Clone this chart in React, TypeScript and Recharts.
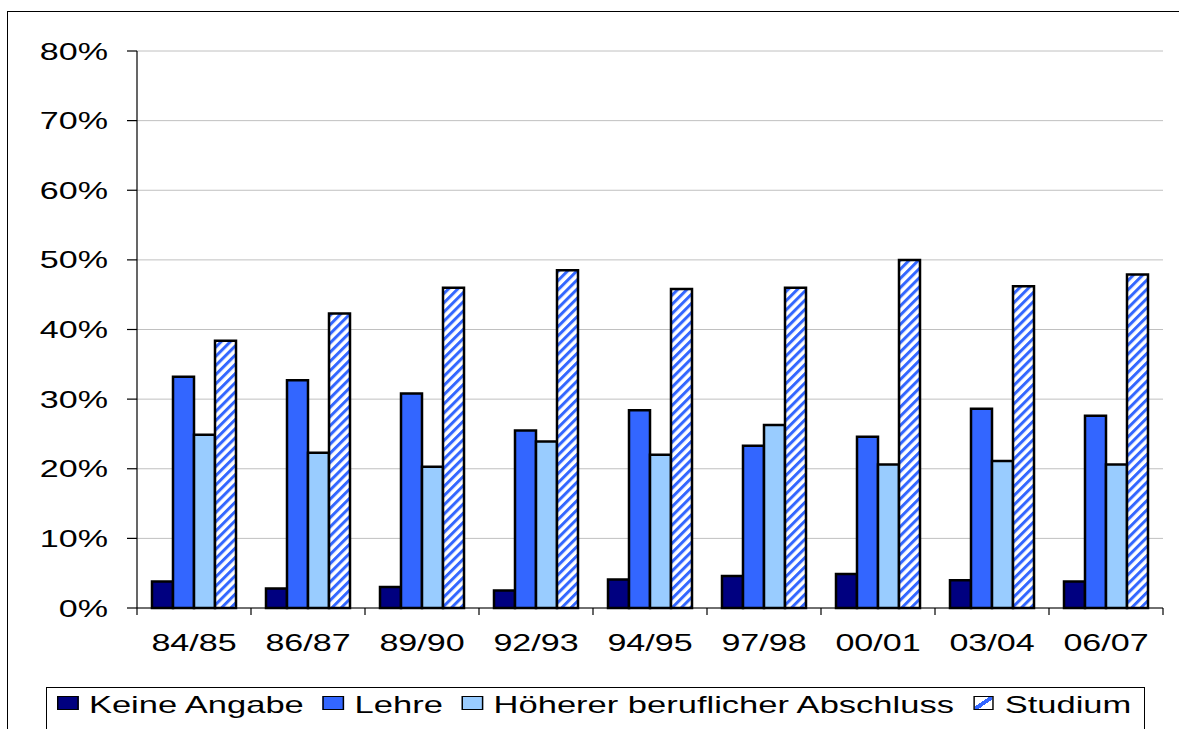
import React from 'react';
import { BarChart, Bar, XAxis, YAxis, CartesianGrid } from 'recharts';

// Schuljahre
const years = ['84/85', '86/87', '89/90', '92/93', '94/95', '97/98', '00/01', '03/04', '06/07'];

// Anteile in %
const keineAngabe = [3.8, 2.8, 3.0, 2.5, 4.1, 4.6, 4.9, 4.0, 3.8];
const lehre = [33.2, 32.7, 30.8, 25.5, 28.4, 23.3, 24.6, 28.6, 27.6];
const hoeherer = [24.9, 22.3, 20.3, 23.9, 22.0, 26.3, 20.6, 21.1, 20.6];
const studium = [38.4, 42.3, 46.0, 48.5, 45.8, 46.0, 50.0, 46.2, 47.9];

const yTicks = [0, 10, 20, 30, 40, 50, 60, 70, 80];

const seriesNames = ['Keine Angabe', 'Lehre', 'Höherer beruflicher Abschluss', 'Studium'];

const data = years.map((year, i) => ({
  year,
  keine: keineAngabe[i],
  lehre: lehre[i],
  hoeherer: hoeherer[i],
  studium: studium[i],
}));

const W = 1179;
const H = 729;
const PLOT_LEFT = 137;
const PLOT_RIGHT = 1163;
const BAND = (PLOT_RIGHT - PLOT_LEFT) / years.length;
const FONT = '"Liberation Sans", Arial, sans-serif';
const STRETCH = 1.45;

const XTick = (props: any) => {
  const { x, y, payload, index } = props;
  return (
    <g>
      <line x1={x - BAND / 2} x2={x - BAND / 2} y1={y - 7} y2={y} stroke="#000" strokeWidth={1.2} />
      {index === years.length - 1 && (
        <line x1={x + BAND / 2} x2={x + BAND / 2} y1={y - 7} y2={y} stroke="#000" strokeWidth={1.2} />
      )}
      <text
        transform={`translate(${x},${y + 36}) scale(${STRETCH},1)`}
        textAnchor="middle"
        fontFamily={FONT}
        fontSize={23.5}
        fill="#000"
      >
        {payload.value}
      </text>
    </g>
  );
};

const YTick = (props: any) => {
  const { x, y, payload } = props;
  return (
    <text
      transform={`translate(${x},${y + 8.5}) scale(${STRETCH},1)`}
      textAnchor="end"
      fontFamily={FONT}
      fontSize={23.5}
      fill="#000"
    >
      {`${payload.value}%`}
    </text>
  );
};

const Swatch = ({ kind }: { kind: number }) => {
  const fills = ['#000080', '#3366FF', '#99CCFF'];
  const style: React.CSSProperties = {
    width: 14.5,
    height: 14,
    border: '1.5px solid #000',
    boxSizing: 'border-box',
    marginTop: 5,
    background:
      kind < 3
        ? fills[kind]
        : 'linear-gradient(135deg, #fff 0%, #fff 40%, #3366FF 40%, #3366FF 60%, #fff 60%, #fff 100%)',
  };
  return <span style={style} />;
};

export default function App() {
  return (
    <div style={{ position: 'relative', width: W, height: H, overflow: 'hidden', background: '#fff' }}>
      <style>{'body{margin:0}'}</style>
      {/* Rahmen */}
      <div
        style={{
          position: 'absolute',
          left: 7,
          top: 11,
          width: 1300,
          height: 900,
          borderLeft: '1.5px solid #000',
          borderTop: '1.5px solid #000',
          boxSizing: 'border-box',
        }}
      />
      <div style={{ position: 'absolute', left: 0, top: 0 }}>
        <BarChart
          width={W}
          height={H}
          data={data}
          margin={{ top: 51, right: W - PLOT_RIGHT, bottom: 81, left: 0 }}
          barCategoryGap={15}
          barGap={0}
        >
          <defs>
            <pattern id="stripes" patternUnits="userSpaceOnUse" width={6.5} height={6.5} patternTransform="rotate(45)">
              <rect width={6.5} height={6.5} fill="#fff" />
              <rect width={3} height={6.5} fill="#3366FF" />
            </pattern>
          </defs>
          <CartesianGrid vertical={false} stroke="#c0c0c0" strokeWidth={1} />
          <XAxis
            dataKey="year"
            height={40}
            axisLine={{ stroke: '#000', strokeWidth: 1.2 }}
            tickLine={false}
            tickSize={7}
            tickMargin={0}
            tick={<XTick />}
            interval={0}
          />
          <YAxis
            width={PLOT_LEFT}
            domain={[0, 80]}
            ticks={yTicks}
            axisLine={{ stroke: '#000', strokeWidth: 1.2 }}
            tickLine={{ stroke: '#000', strokeWidth: 1.2 }}
            tickSize={10}
            tickMargin={19}
            tick={<YTick />}
            interval={0}
          />
          <YAxis
            yAxisId="frame"
            orientation="right"
            width={0}
            domain={[0, 80]}
            ticks={yTicks}
            tick={false}
            tickLine={false}
            axisLine={{ stroke: '#c0c0c0', strokeWidth: 2 }}
          />
          <Bar dataKey="keine" name={seriesNames[0]} fill="#000080" stroke="#000" strokeWidth={2.5} isAnimationActive={false} />
          <Bar dataKey="lehre" name={seriesNames[1]} fill="#3366FF" stroke="#000" strokeWidth={2.5} isAnimationActive={false} />
          <Bar dataKey="hoeherer" name={seriesNames[2]} fill="#99CCFF" stroke="#000" strokeWidth={2.5} isAnimationActive={false} />
          <Bar dataKey="studium" name={seriesNames[3]} fill="url(#stripes)" stroke="#000" strokeWidth={2.5} isAnimationActive={false} />
        </BarChart>
      </div>
      {/* Legende */}
      <div
        style={{
          position: 'absolute',
          left: 46,
          top: 687,
          width: 1099,
          height: 60,
          border: '1px solid #000',
          boxSizing: 'border-box',
          background: '#fff',
        }}
      >
        <div
          style={{
            position: 'absolute',
            left: 10,
            top: 3,
            display: 'flex',
            alignItems: 'flex-start',
            whiteSpace: 'nowrap',
            transform: `scaleX(${STRETCH})`,
            transformOrigin: 'left top',
            fontFamily: FONT,
            fontSize: 23.8,
            lineHeight: '27px',
            color: '#000',
          }}
        >
          {seriesNames.map((name, i) => (
            <div key={name} style={{ display: 'flex', alignItems: 'flex-start', marginRight: 13 }}>
              <Swatch kind={i} />
              <span style={{ marginLeft: 7.5 }}>{name}</span>
            </div>
          ))}
        </div>
      </div>
    </div>
  );
}
